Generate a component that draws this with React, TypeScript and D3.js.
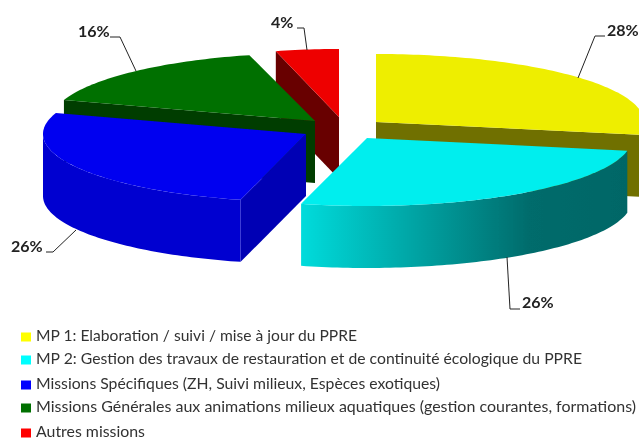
import React from 'react';
import * as d3 from 'd3';

const categories = [
  'MP 1: Elaboration / suivi / mise à jour du PPRE',
  'MP 2: Gestion des travaux de restauration et de continuité écologique du PPRE',
  'Missions Spécifiques (ZH, Suivi milieux, Espèces exotiques)',
  'Missions Générales aux animations milieux aquatiques (gestion courantes, formations)',
  'Autres missions',
];
const shares = [28, 26, 26, 16, 4];

const topColors = ['#eeee00', '#00eeee', '#0000f0', '#007000', '#ee0000'];
const cutColors = ['#707000', '#006868', '#0000b4', '#003c00', '#680000'];
const wallColors = ['#707000', 'url(#cyanWall)', '#0000d0', '#003c00', '#680000'];
const legendColors = ['#ffff00', '#00ffff', '#0000ff', '#007000', '#ff0000'];

// exploded slice apexes on the page
const apexX = [376, 367, 306, 315, 339];
const apexY = [122, 138, 134, 121, 117];
const radiusX = [268, 265, 263, 264, 254];

const labelX = [607, 522, 11, 78, 271];
const labelY = [32, 304, 248, 33, 24];
const leaders = [
  [[578, 78], [595, 36], [605, 36]],
  [[507, 257], [510, 309], [520, 309]],
  [[76, 230], [53, 252], [46, 252]],
  [[136, 71], [120, 37], [110, 37]],
  [[307, 50], [304, 28], [297, 28]],
];

const legendY = [337, 360, 385, 408, 433];
const legendWidth = [321, 546, 404, 600, 109];

const width = 639;
const height = 439;
const depth = 62;

// the pie is flattened: x and y radii differ
const unit = d3.scaleLinear().domain([0, 1]);
const ry = unit.copy().range([0, 68]);

const pie = d3.pie<number>().sort(null)(shares);
const line = d3.line();

const rim = (i: number, a: number, dy = 0): [number, number] => [
  apexX[i] + unit.copy().range([0, radiusX[i]])(Math.sin(a)),
  apexY[i] - ry(Math.cos(a)) + dy,
];

const sweep = (from: number, to: number) => {
  const n = Math.max(2, Math.ceil((to - from) / 0.02));
  return d3.range(n + 1).map(k => from + ((to - from) * k) / n);
};

const topPath = (i: number) => {
  const s = pie[i];
  const pts = sweep(s.startAngle, s.endAngle).map(a => rim(i, a));
  return line([[apexX[i], apexY[i]], ...pts]) + 'Z';
};

const cutPath = (i: number, a: number) => {
  const apex: [number, number] = [apexX[i], apexY[i]];
  return line([apex, rim(i, a), rim(i, a, depth), [apex[0], apex[1] + depth]]) + 'Z';
};

const wallPath = (i: number) => {
  const s = pie[i];
  const from = Math.max(s.startAngle, Math.PI / 2);
  const to = Math.min(s.endAngle, (3 * Math.PI) / 2);
  if (to <= from) return null;
  const angles = sweep(from, to);
  const upper = angles.map(a => rim(i, a));
  const lower = angles.slice().reverse().map(a => rim(i, a, depth));
  return line([...upper, ...lower]) + 'Z';
};

const drawOrder = [4, 3, 0, 2, 1];

const App: React.FC = () => (
  <svg
    width={width}
    height={height}
    viewBox={`0 0 ${width} ${height}`}
    style={{ position: 'absolute', left: 0, top: 0, background: '#fff' }}
  >
    <defs>
      <linearGradient id="cyanWall" gradientUnits="userSpaceOnUse" x1={300} x2={626} y1={0} y2={0}>
        <stop offset="0" stopColor="#00dcdc" />
        <stop offset="0.35" stopColor="#00a4a4" />
        <stop offset="0.7" stopColor="#006c6c" />
        <stop offset="1" stopColor="#006666" />
      </linearGradient>
      <filter id="soft" x="0" y="0" width="100%" height="100%">
        <feGaussianBlur stdDeviation="0.45" />
      </filter>
    </defs>
    <g filter="url(#soft)">
      {drawOrder.map(i => {
        const s = pie[i];
        const wall = wallPath(i);
        return (
          <g key={categories[i]}>
            {Math.sin(s.startAngle) < -1e-6 && <path d={cutPath(i, s.startAngle)} fill={cutColors[i]} />}
            {Math.sin(s.endAngle) > 1e-6 && <path d={cutPath(i, s.endAngle)} fill={cutColors[i]} />}
            {wall && <path d={wall} fill={wallColors[i]} />}
            <path d={topPath(i)} fill={topColors[i]} />
          </g>
        );
      })}

      {leaders.map((pts, i) => (
        <path
          key={i}
          d={line(pts as [number, number][]) as string}
          fill="none"
          stroke="#222"
          strokeWidth={1}
        />
      ))}
      {shares.map((v, i) => (
        <text
          key={i}
          x={labelX[i]}
          y={labelY[i]}
          dominantBaseline="middle"
          fontFamily="Lato"
          fontWeight={700}
          fontSize={16}
          fill="#222"
        >
          {v}%
        </text>
      ))}

      {categories.map((c, i) => (
        <g key={c}>
          <rect x={21} y={legendY[i] - 4.5} width={10} height={9} fill={legendColors[i]} />
          <text
            x={36}
            y={legendY[i]}
            dominantBaseline="middle"
            fontFamily="Lato"
            fontSize={15}
            fill="#333"
            textLength={legendWidth[i]}
            lengthAdjust="spacingAndGlyphs"
          >
            {c}
          </text>
        </g>
      ))}
    </g>
  </svg>
);

export default App;
